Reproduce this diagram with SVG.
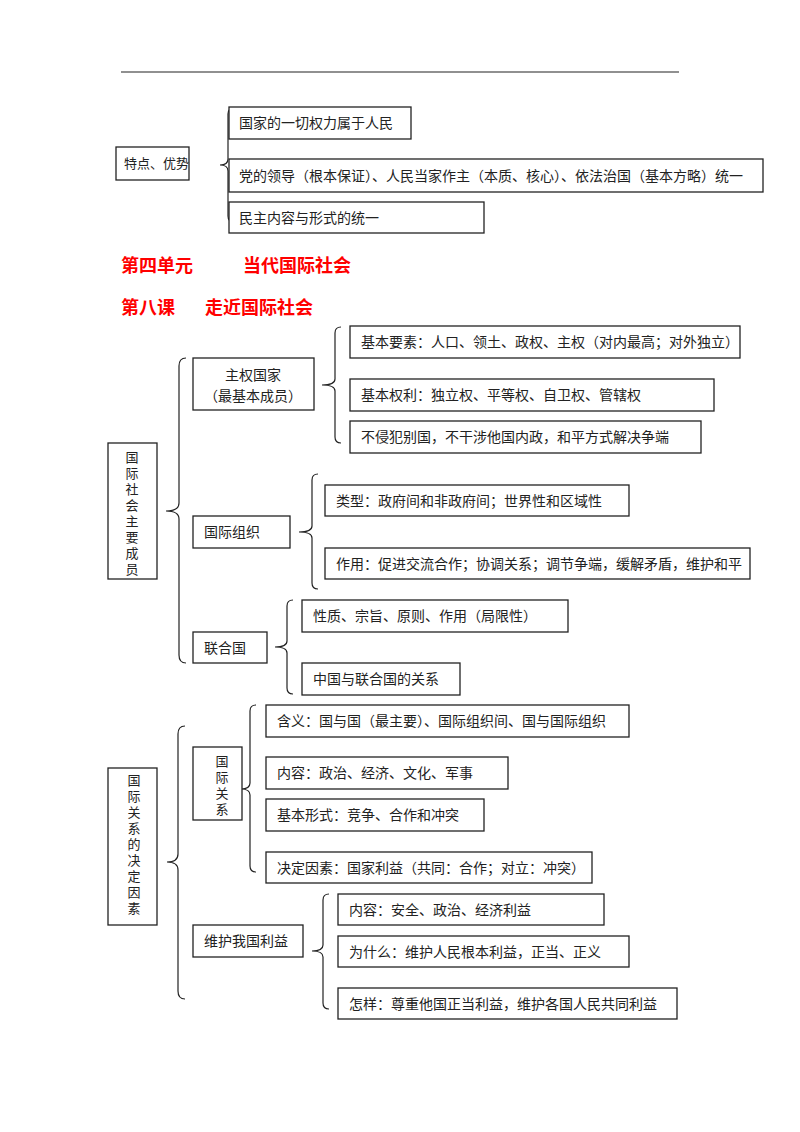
<svg xmlns="http://www.w3.org/2000/svg" width="800" height="1132" viewBox="0 0 800 1132">
<style>
rect{fill:#fff;stroke:#222;stroke-width:1.3}
.b{fill:none;stroke:#222;stroke-width:1.2}
text{font-family:"Noto Sans CJK SC","Noto Sans",sans-serif;font-size:14px;fill:#222}
.h{font-size:18px;font-weight:bold;fill:#f00}
.v{text-anchor:middle}
.s{font-size:13px}
</style>
<rect width="800" height="1132" fill="#fff" style="stroke:none"/>
<line x1="121" y1="72" x2="679" y2="72" stroke="#222" stroke-width="1.2"/>
<g id="connectors">
<path class="b" d="M234,108 Q228,108 228,114 L228,159 Q228,165 220,165 Q228,165 228,171 L228,216 Q228,222 234,222"/>
<path class="b" d="M186,358 Q179,358 179,366 L179,503 Q179,511 166,511 Q179,511 179,519 L179,655 Q179,663 186,663"/>
<path class="b" d="M341,327 Q335,327 335,333 L335,379 Q335,385 322,385 Q335,385 335,391 L335,437 Q335,443 341,443"/>
<path class="b" d="M318,474 Q312,474 312,480 L312,526 Q312,532 299,532 Q312,532 312,538 L312,583 Q312,589 318,589"/>
<path class="b" d="M293,600 Q287,600 287,606 L287,641 Q287,647 275,647 Q287,647 287,653 L287,688 Q287,694 293,694"/>
<path class="b" d="M185,726 Q178,726 178,734 L178,854 Q178,862 167,862 Q178,862 178,870 L178,991 Q178,999 185,999"/>
<path class="b" d="M256,705 Q250,705 250,711 L250,783 Q250,789 241,789 Q250,789 250,795 L250,866 Q250,872 256,872"/>
<path class="b" d="M329,894 Q323,894 323,900 L323,945 Q323,951 312,951 Q323,951 323,957 L323,1003 Q323,1009 329,1009"/>
</g>
<g id="n-tedian"><rect x="116" y="147" width="73" height="33"/><text class="s" x="124" y="168">特点、优势</text></g>
<g id="n-t1"><rect x="229" y="107" width="182" height="32"/><text x="239" y="128">国家的一切权力属于人民</text></g>
<g id="n-t2"><rect x="229" y="159" width="534" height="33"/><text x="239" y="181">党的领导（根本保证）、人民当家作主（本质、核心）、依法治国（基本方略）统一</text></g>
<g id="n-t3"><rect x="229" y="202" width="255" height="31"/><text x="239" y="223">民主内容与形式的统一</text></g>
<text class="h" x="121" y="272">第四单元</text><text class="h" x="243" y="272">当代国际社会</text>
<text class="h" x="121" y="314">第八课</text><text class="h" x="205" y="314">走近国际社会</text>
<g id="n-cy"><rect x="108" y="443" width="49" height="136"/><text class="v s"><tspan x="132" y="462">国</tspan><tspan x="132" y="478">际</tspan><tspan x="132" y="494">社</tspan><tspan x="132" y="510">会</tspan><tspan x="132" y="526">主</tspan><tspan x="132" y="542">要</tspan><tspan x="132" y="558">成</tspan><tspan x="132" y="574">员</tspan></text></g>
<g id="n-zq"><rect x="193" y="358" width="121" height="52"/><text class="v" x="253" y="380">主权国家</text><text class="v" x="253" y="401">（最基本成员）</text></g>
<g id="n-zq1"><rect x="350" y="326" width="390" height="32"/><text x="361" y="347">基本要素：人口、领土、政权、主权（对内最高；对外独立）</text></g>
<g id="n-zq2"><rect x="350" y="379" width="364" height="32"/><text x="361" y="400">基本权利：独立权、平等权、自卫权、管辖权</text></g>
<g id="n-zq3"><rect x="350" y="421" width="351" height="32"/><text x="361" y="442">不侵犯别国，不干涉他国内政，和平方式解决争端</text></g>
<g id="n-zz"><rect x="193" y="516" width="97" height="32"/><text x="204" y="537">国际组织</text></g>
<g id="n-zz1"><rect x="325" y="485" width="304" height="31"/><text x="336" y="506">类型：政府间和非政府间；世界性和区域性</text></g>
<g id="n-zz2"><rect x="325" y="548" width="425" height="31"/><text x="336" y="569">作用：促进交流合作；协调关系；调节争端，缓解矛盾，维护和平</text></g>
<g id="n-lh"><rect x="193" y="632" width="74" height="31"/><text x="204" y="653">联合国</text></g>
<g id="n-lh1"><rect x="302" y="600" width="266" height="32"/><text x="313" y="621">性质、宗旨、原则、作用（局限性）</text></g>
<g id="n-lh2"><rect x="302" y="663" width="158" height="32"/><text x="313" y="684">中国与联合国的关系</text></g>
<g id="n-jd"><rect x="108" y="768" width="49" height="157"/><text class="v s"><tspan x="134" y="785">国</tspan><tspan x="134" y="801">际</tspan><tspan x="134" y="817">关</tspan><tspan x="134" y="833">系</tspan><tspan x="134" y="849">的</tspan><tspan x="134" y="865">决</tspan><tspan x="134" y="881">定</tspan><tspan x="134" y="897">因</tspan><tspan x="134" y="913">素</tspan></text></g>
<g id="n-gj"><rect x="193" y="747" width="49" height="73"/><text class="v s"><tspan x="222" y="766">国</tspan><tspan x="222" y="782">际</tspan><tspan x="222" y="798">关</tspan><tspan x="222" y="814">系</tspan></text></g>
<g id="n-gj1"><rect x="266" y="705" width="363" height="32"/><text x="277" y="726">含义：国与国（最主要）、国际组织间、国与国际组织</text></g>
<g id="n-gj2"><rect x="266" y="757" width="242" height="32"/><text x="277" y="778">内容：政治、经济、文化、军事</text></g>
<g id="n-gj3"><rect x="266" y="799" width="218" height="32"/><text x="277" y="820">基本形式：竞争、合作和冲突</text></g>
<g id="n-gj4"><rect x="266" y="852" width="326" height="31"/><text x="277" y="873">决定因素：国家利益（共同：合作；对立：冲突）</text></g>
<g id="n-wh"><rect x="193" y="925" width="110" height="32"/><text x="204" y="946">维护我国利益</text></g>
<g id="n-wh1"><rect x="338" y="894" width="266" height="31"/><text x="349" y="915">内容：安全、政治、经济利益</text></g>
<g id="n-wh2"><rect x="338" y="936" width="291" height="31"/><text x="349" y="957">为什么：维护人民根本利益，正当、正义</text></g>
<g id="n-wh3"><rect x="338" y="988" width="339" height="31"/><text x="349" y="1009">怎样：尊重他国正当利益，维护各国人民共同利益</text></g>
</svg>
